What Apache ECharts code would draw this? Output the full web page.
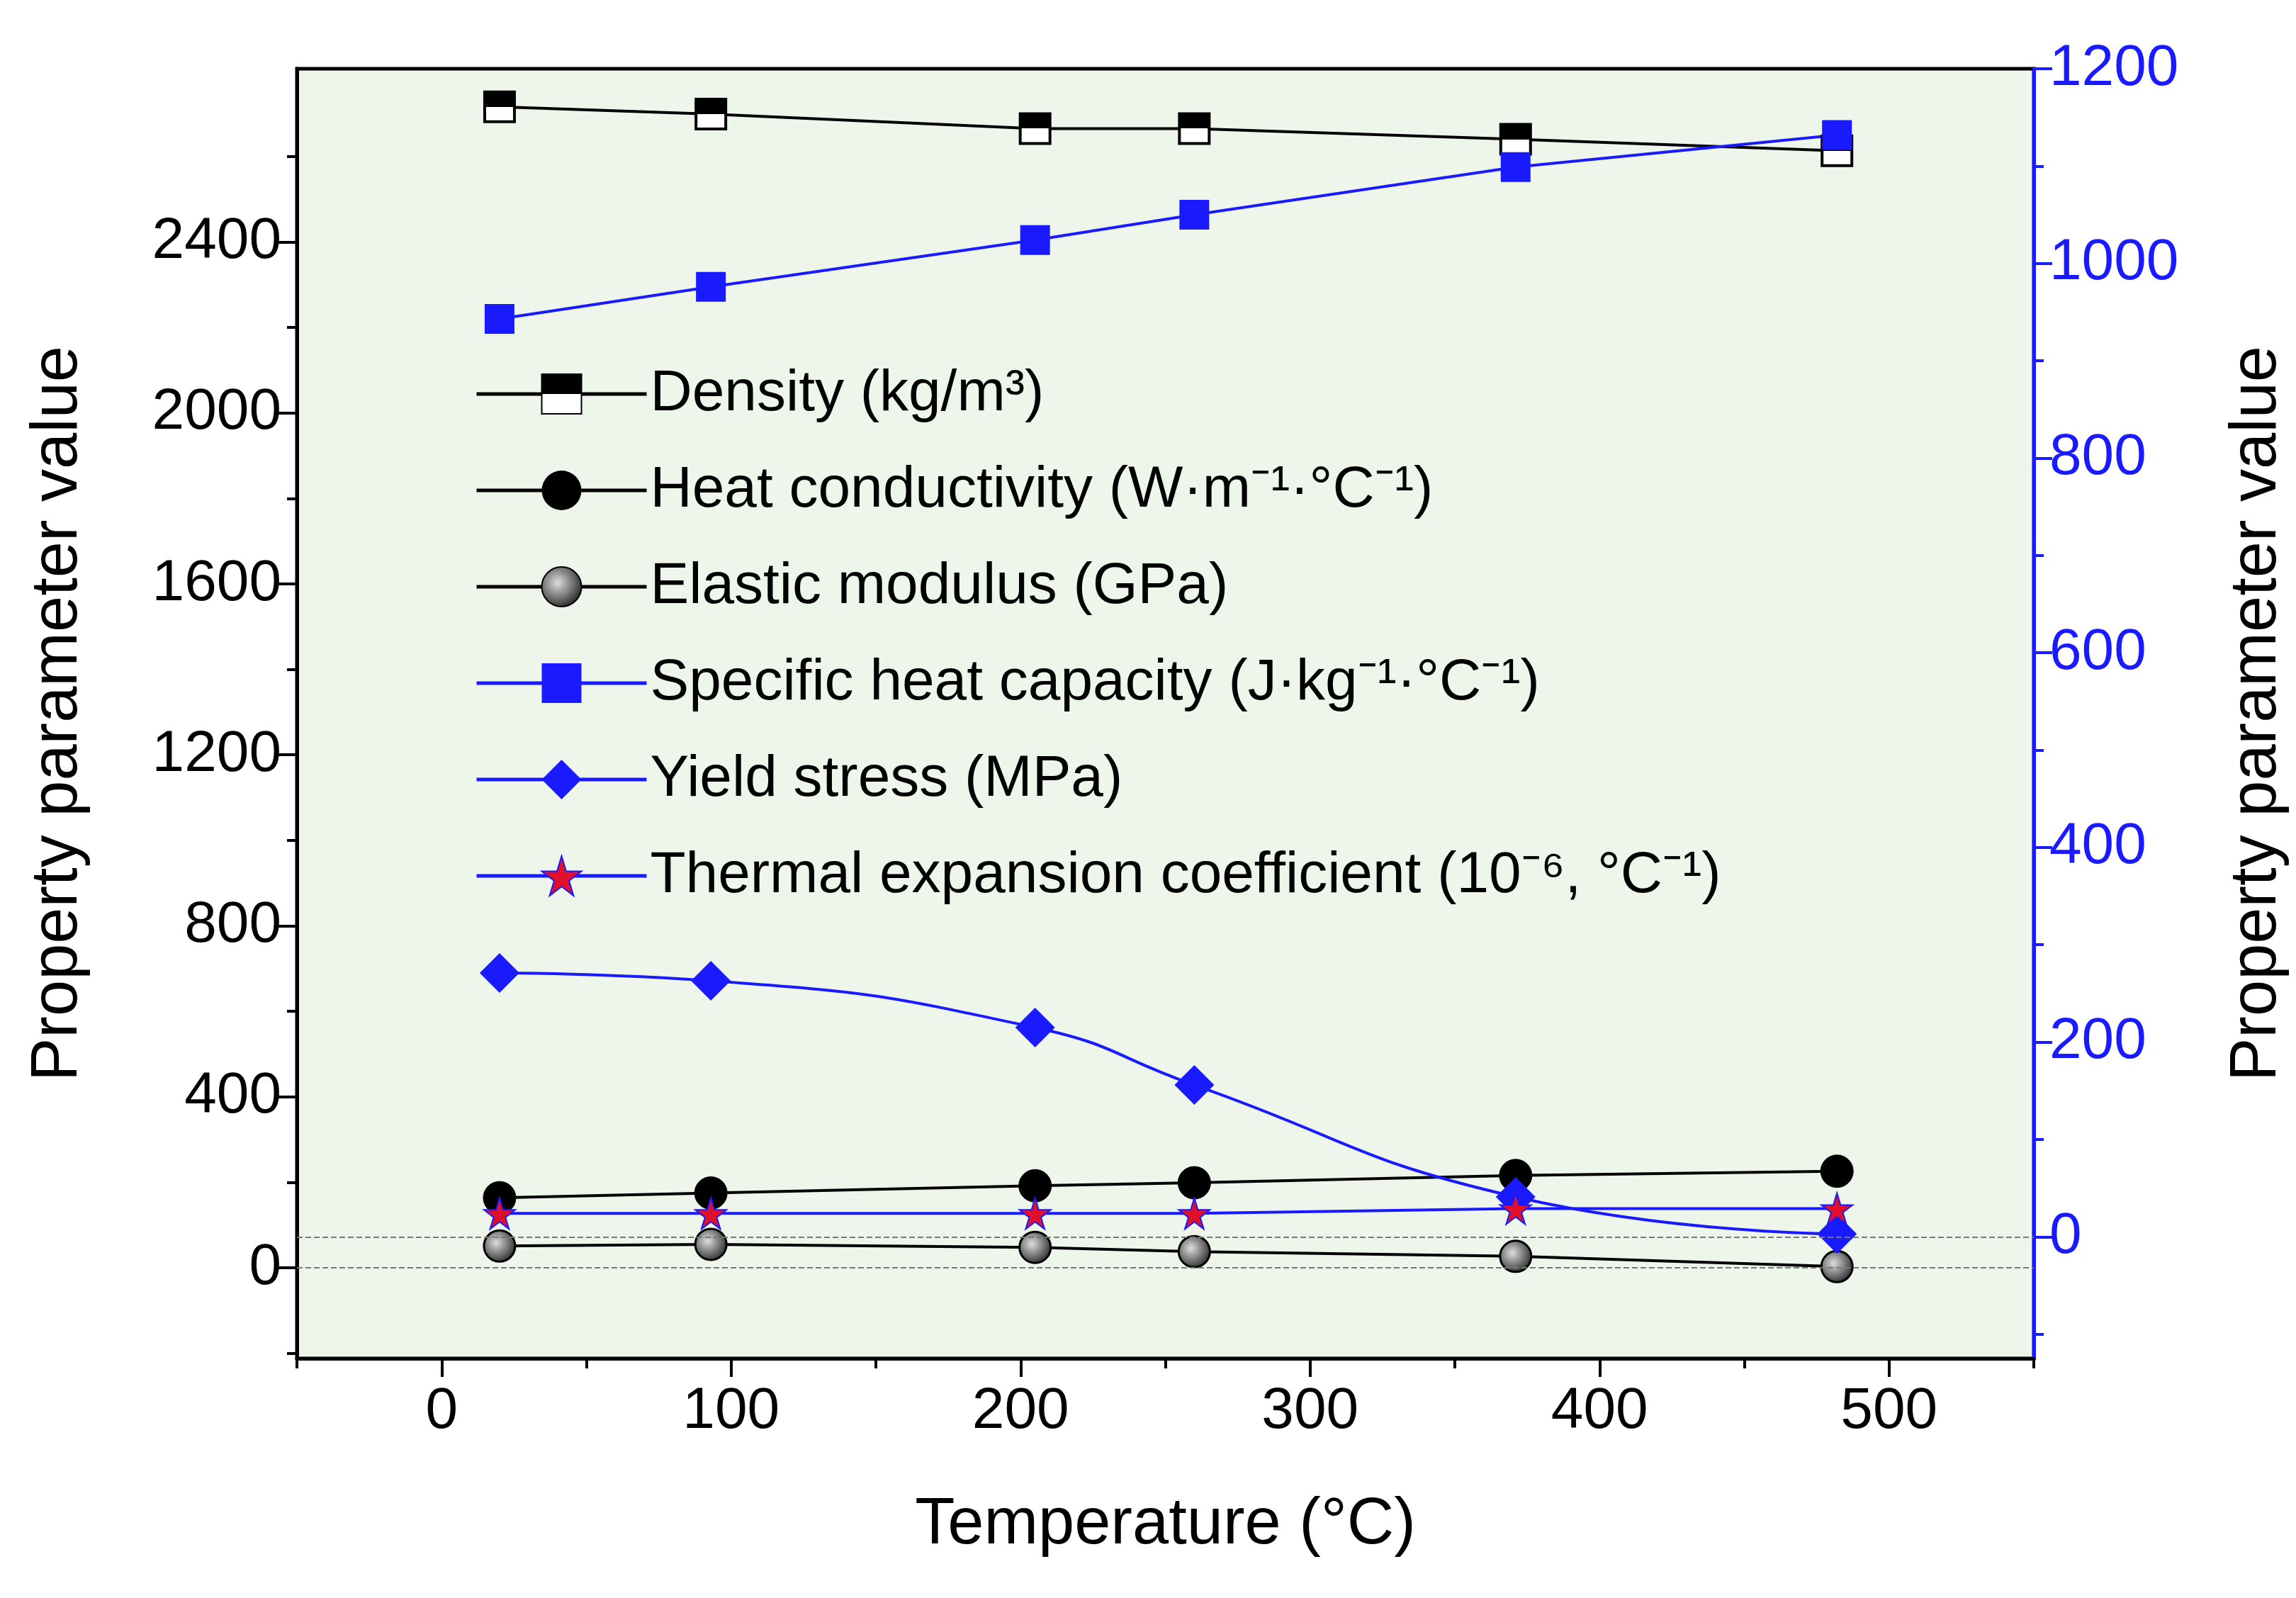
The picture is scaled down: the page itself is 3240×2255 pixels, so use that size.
<!DOCTYPE html>
<html><head><meta charset="utf-8">
<script src="https://cdn.jsdelivr.net/npm/echarts@6/dist/echarts.min.js"></script>
<style>html,body{margin:0;padding:0;background:#fff}#c{width:3240px;height:2255px}</style>
</head><body><div id="c"></div>
<script>
const temps = [20, 93, 205, 260, 371, 482];
const density = [2716, 2699, 2665, 2665, 2640, 2613];
const heatCond = [164, 175, 192, 199, 216, 226];
const elastic = [51, 55, 48, 38, 27, 3];
const specHeat = [943, 976, 1024, 1050, 1099, 1132];
const yieldStress = [271, 263, 215, 156, 41, 3];
const thermExp = [24, 24, 24, 24, 29, 29];
const leftTicks = [0, 400, 800, 1200, 1600, 2000, 2400];
const leftMinor = [-200, 200, 600, 1000, 1400, 1800, 2200, 2600];
const rightTicks = [0, 200, 400, 600, 800, 1000, 1200];
const rightMinor = [-100, 100, 300, 500, 700, 900, 1100];
const xTicks = [0, 100, 200, 300, 400, 500];
const xMinor = [-50, 50, 150, 250, 350, 450, 550];

const F = 'Liberation Sans, Arial, sans-serif';
const pair = a => a.map((v, i) => [temps[i], v]);
const chart = echarts.init(document.getElementById('c'));
const yBase = (min, max, pos, col, ticks, minor, show) => ({
  type: 'value', min, max, position: pos,
  axisLine: {show: show, onZero: false, lineStyle: {color: col, width: 5}},
  axisTick: {show: true, inside: false, length: minor ? 14 : 26, lineStyle: {color: col, width: 4}, customValues: minor || ticks},
  axisLabel: {show: !minor, customValues: ticks, color: col, fontSize: 82, fontFamily: F, margin: 22, formatter: v => String(v)},
  splitLine: {show: false}
});
chart.setOption({
  animation: false,
  backgroundColor: '#fff',
  grid: {left: 419, right: 358, top: 97, bottom: 338, show: true, backgroundColor: '#eef5ea', borderColor: '#000', borderWidth: 5},
  xAxis: [
    {type: 'value', min: -50, max: 550, position: 'bottom', name: 'Temperature (°C)', nameLocation: 'middle', nameGap: 190,
     nameTextStyle: {fontSize: 92, fontFamily: F, color: '#000'},
     axisLine: {onZero: false, lineStyle: {color: '#000', width: 5}},
     axisTick: {length: 26, lineStyle: {width: 4}, customValues: xTicks},
     axisLabel: {customValues: xTicks, fontSize: 82, fontFamily: F, color: '#000', margin: 34}, splitLine: {show: false}},
    {type: 'value', min: -50, max: 550, position: 'bottom', axisLine: {show: false, onZero: false},
     axisTick: {length: 14, lineStyle: {width: 4, color: '#000'}, customValues: xMinor}, axisLabel: {show: false}, splitLine: {show: false}}
  ],
  yAxis: [
    Object.assign(yBase(-212, 2805, 'left', '#000', leftTicks, null, true),
      {name: 'Property parameter value', nameLocation: 'middle', nameGap: 290, nameTextStyle: {fontSize: 92, fontFamily: F, color: '#000'}}),
    Object.assign(yBase(-125, 1200, 'right', '#1a1aff', rightTicks, null, true),
      {name: 'Property parameter value', nameLocation: 'middle', nameGap: 270, nameRotate: 90, nameTextStyle: {fontSize: 92, fontFamily: F, color: '#000'}}),
    yBase(-212, 2805, 'left', '#000', leftTicks, leftMinor, false),
    yBase(-125, 1200, 'right', '#1a1aff', rightTicks, rightMinor, false)
  ],
  legend: {
    orient: 'vertical', left: 665, top: 510, itemGap: 54, itemWidth: 240, itemHeight: 70,
    lineStyle: {width: 5},
    textStyle: {fontSize: 82, fontFamily: F, color: '#000'},
    data: ['Density (kg/m³)', 'Heat conductivity (W·m⁻¹·°C⁻¹)', 'Elastic modulus (GPa)',
      'Specific heat capacity (J·kg⁻¹·°C⁻¹)', 'Yield stress (MPa)', 'Thermal expansion coefficient (10⁻⁶, °C⁻¹)']
  },
  series: [
    {type: 'line', data: [], markLine: {silent: true, symbol: 'none', label: {show: false},
      lineStyle: {color: '#777', type: 'dashed', width: 2}, data: [{yAxis: 0}]}, yAxisIndex: 0},
    {type: 'line', data: [], markLine: {silent: true, symbol: 'none', label: {show: false},
      lineStyle: {color: '#777', type: 'dashed', width: 2}, data: [{yAxis: 0}]}, yAxisIndex: 1},
    {name: 'Density (kg/m³)', type: 'line', yAxisIndex: 0, data: pair(density), symbol: 'rect', symbolSize: 42,
     lineStyle: {color: '#000', width: 4}, itemStyle: {color: {type: 'linear', x: 0, y: 0, x2: 0, y2: 1, colorStops: [{offset: 0, color: '#000'}, {offset: 0.5, color: '#000'}, {offset: 0.5, color: '#fff'}, {offset: 1, color: '#fff'}]}, borderColor: '#000', borderWidth: 4}},
    {name: 'Heat conductivity (W·m⁻¹·°C⁻¹)', type: 'line', yAxisIndex: 0, data: pair(heatCond), symbol: 'circle', symbolSize: 46,
     lineStyle: {color: '#000', width: 4}, itemStyle: {color: '#000', borderColor: '#000'}},
    {name: 'Elastic modulus (GPa)', type: 'line', yAxisIndex: 0, data: pair(elastic), symbol: 'circle', symbolSize: 44,
     lineStyle: {color: '#000', width: 4}, itemStyle: {color: {type: 'radial', x: 0.4, y: 0.4, r: 0.6, colorStops: [{offset: 0, color: '#ddd'}, {offset: 1, color: '#333'}]}, borderColor: '#000', borderWidth: 3}},
    {name: 'Specific heat capacity (J·kg⁻¹·°C⁻¹)', type: 'line', yAxisIndex: 1, data: pair(specHeat), symbol: 'rect', symbolSize: 42,
     lineStyle: {color: '#1a1aff', width: 4}, itemStyle: {color: '#1a1aff'}},
    {name: 'Yield stress (MPa)', type: 'line', smooth: true, yAxisIndex: 1, data: pair(yieldStress), symbol: 'diamond', symbolSize: 56,
     lineStyle: {color: '#1a1aff', width: 4}, itemStyle: {color: '#1a1aff'}},
    {name: 'Thermal expansion coefficient (10⁻⁶, °C⁻¹)', type: 'line', yAxisIndex: 1, data: pair(thermExp),
     symbol: 'path://M50,0 L61,35 L98,35 L68,57 L79,91 L50,70 L21,91 L32,57 L2,35 L39,35 Z', symbolSize: 44,
     lineStyle: {color: '#1a1aff', width: 4}, itemStyle: {color: '#e0102a', borderColor: '#1a1aff', borderWidth: 2}}
  ]
});
</script></body></html>
